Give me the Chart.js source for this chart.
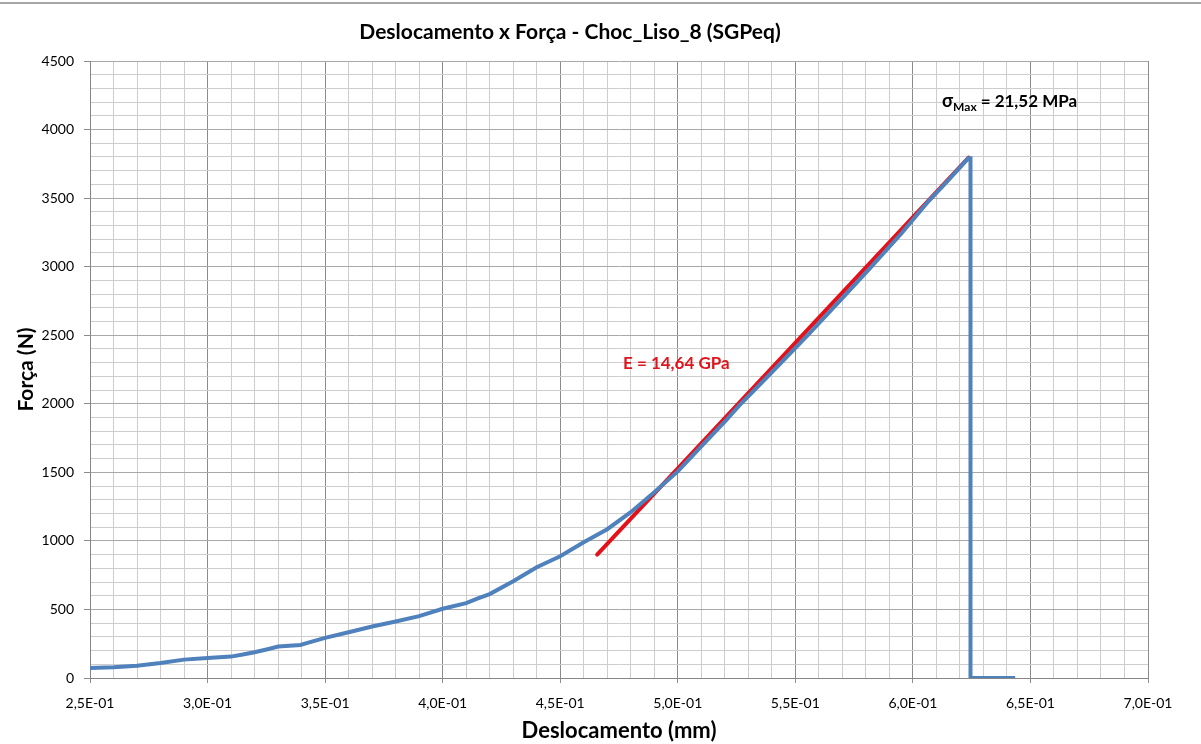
<!DOCTYPE html>
<html>
<head>
<meta charset="utf-8">
<script src="https://cdn.jsdelivr.net/npm/chart.js@4.4.1/dist/chart.umd.min.js"></script>
<style>
  html, body { margin: 0; padding: 0; background: #fff; }
  #wrap { position: relative; width: 1201px; height: 744px; }
  #topline { position: absolute; left: 0; top: 2px; width: 1201px; height: 2px; background: #a6a6a6; }
</style>
</head>
<body>
<div id="wrap">
  <div id="topline"></div>
  <canvas id="chartCanvas" width="1201" height="744"></canvas>
</div>
<script>
const dispX = [0.25, 0.26, 0.27, 0.28, 0.29, 0.30, 0.31, 0.315, 0.32, 0.326, 0.33, 0.3395, 0.3425,
    0.35, 0.36, 0.37, 0.38, 0.39, 0.40, 0.41, 0.415, 0.42, 0.43, 0.44, 0.45, 0.46, 0.47, 0.48, 0.49,
    0.50, 0.51, 0.52, 0.526, 0.54, 0.555, 0.57, 0.581, 0.595, 0.606, 0.615, 0.6235, 0.6245, 0.6245, 0.6435];
const forceN = [73, 78, 90, 110, 134, 146, 156, 171, 188, 212, 229, 241, 256,
    293, 334, 376, 412, 451, 505, 546, 580, 612, 706, 808, 888, 990, 1085, 1209, 1354,
    1507, 1690, 1870, 1985, 2230, 2495, 2770, 2975, 3240, 3465, 3630, 3790, 3790, 0, 0];

// reta de ajuste (módulo E)
const fitX = [0.4657, 0.6237];
const fitY = [900, 3795];

const xTicksMajor = 0.05;
const yTicksMajor = 500;

const chartTitle = 'Deslocamento x Força - Choc_Liso_8 (SGPeq)';
const labelE = 'E = 14,64 GPa';
const labelE_pos = [0.4767, 2297];
const labelSig_pos = [0.6124, 4208];

const FONT = 'Lato, "Open Sans", sans-serif';

function sciLabel(v) {
    let parts = v.toExponential(1).split('e');
    let e = parseInt(parts[1]);
    return parts[0].replace('.', ',') + 'E' + (e < 0 ? '-' : '+') + String(Math.abs(e)).padStart(2, '0');
}

function isMajor(v, step) {
    let r = v / step;
    return Math.abs(r - Math.round(r)) < 1e-6;
}

let textPlugin = {
    id: 'textPlugin',
    afterDraw: function (chart) {
        let ctx = chart.ctx;
        let xs = chart.scales.x, ys = chart.scales.y;
        ctx.save();
        // title
        ctx.fillStyle = '#000';
        ctx.font = 'bold 21px ' + FONT;
        ctx.textAlign = 'center';
        ctx.textBaseline = 'middle';
        ctx.fillText(chartTitle, 570, 32);

        // E label
        ctx.fillStyle = '#e0141c';
        ctx.font = 'bold 17px ' + FONT;
        ctx.textAlign = 'left';
        ctx.fillText(labelE, xs.getPixelForValue(labelE_pos[0]), ys.getPixelForValue(labelE_pos[1]));

        // sigma max label
        let x = xs.getPixelForValue(labelSig_pos[0]);
        let y = ys.getPixelForValue(labelSig_pos[1]);
        ctx.fillStyle = '#000';
        ctx.font = 'bold 18px ' + FONT;
        ctx.fillText('σ', x, y);
        x += ctx.measureText('σ').width;
        ctx.font = 'bold 12px ' + FONT;
        ctx.fillText('Max', x, y + 6);
        x += ctx.measureText('Max').width + 4;
        ctx.font = 'bold 17px ' + FONT;
        ctx.fillText('= 21,52 MPa', x, y);
        ctx.restore();
    }
};

window.onload = function () {
    let ctx = document.getElementById('chartCanvas').getContext('2d');

    window.chart = new Chart(ctx, {
        type: 'scatter',
        data: {
            datasets: [{
                label: 'Ensaio',
                data: dispX.map((x, i) => ({ x: x, y: forceN[i] })),
                showLine: true,
                borderColor: '#4f81bd',
                borderWidth: 4,
                pointRadius: 0,
                tension: 0
            }, {
                label: 'Ajuste',
                data: fitX.map((x, i) => ({ x: x, y: fitY[i] })),
                showLine: true,
                borderColor: '#e3121a',
                borderWidth: 4,
                pointRadius: 0,
                borderCapStyle: 'round'
            }]
        },
        options: {
            responsive: false,
            animation: false,
            layout: { padding: { top: 61, right: 53, left: 0, bottom: 0 } },
            plugins: {
                legend: { display: false },
                tooltip: { enabled: false },
                title: { display: false }
            },
            scales: {
                x: {
                    type: 'linear',
                    min: 0.25,
                    max: 0.70,
                    afterFit: function (s) { s.height = 66; },
                    ticks: {
                        stepSize: 0.01,
                        autoSkip: false,
                        maxRotation: 0,
                        padding: 12,
                        color: '#000',
                        font: { family: FONT, size: 14 },
                        callback: function (v) { return isMajor(v, xTicksMajor) ? sciLabel(v) : ''; }
                    },
                    grid: {
                        color: c => isMajor(c.tick.value, xTicksMajor) ? '#8c8c8c' : '#cdcdcd',
                        tickColor: c => isMajor(c.tick.value, xTicksMajor) ? '#8c8c8c' : 'rgba(0,0,0,0)',
                        tickLength: 5
                    },
                    border: { color: '#868686' },
                    title: {
                        display: true,
                        text: 'Deslocamento (mm)',
                        color: '#000',
                        font: { family: FONT, size: 22, weight: 'bold' },
                        padding: { top: 0, bottom: 0 }
                    }
                },
                y: {
                    min: 0,
                    max: 4500,
                    afterFit: function (s) { s.width = 90; },
                    ticks: {
                        stepSize: 100,
                        autoSkip: false,
                        padding: 10,
                        color: '#000',
                        font: { family: FONT, size: 14 },
                        callback: function (v) { return isMajor(v, yTicksMajor) ? String(v) : ''; }
                    },
                    grid: {
                        color: c => isMajor(c.tick.value, yTicksMajor) ? '#a8a8a8' : '#cdcdcd',
                        tickColor: c => isMajor(c.tick.value, yTicksMajor) ? '#8c8c8c' : 'rgba(0,0,0,0)',
                        tickLength: 6
                    },
                    border: { color: '#868686' },
                    title: {
                        display: true,
                        text: 'Força (N)',
                        color: '#000',
                        font: { family: FONT, size: 21, weight: 'bold' },
                        padding: { top: 14, bottom: 0 }
                    }
                }
            }
        },
        plugins: [textPlugin]
    });
};
</script>
</body>
</html>
